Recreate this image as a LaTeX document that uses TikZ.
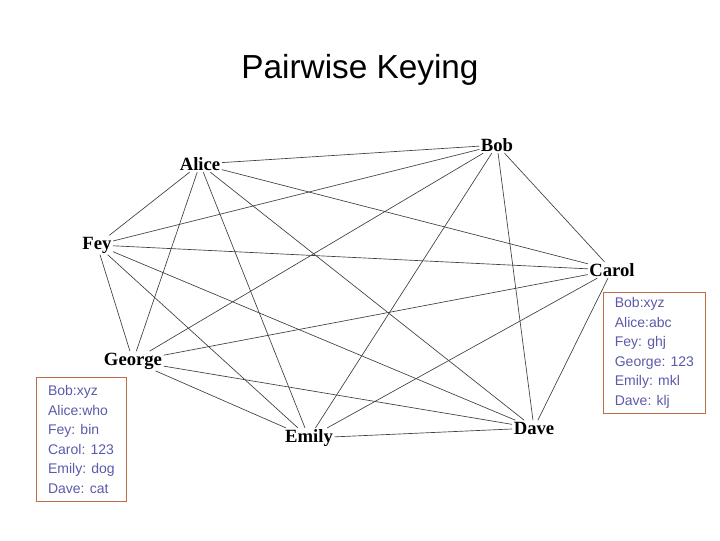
\documentclass[tikz,border=0pt]{standalone}
\usepackage{fontspec}
\setmainfont{Liberation Serif}
\newfontfamily\sans{Liberation Sans}
\begin{document}
\begin{tikzpicture}[x=0.75pt,y=-0.75pt,
  person/.style={font=\bfseries\fontsize{14}{16}\selectfont, inner sep=1pt},
  edge/.style={draw=black!75, line width=0.5pt},
  keybox/.style={draw={rgb,255:red,190;green,110;blue,70}, line width=0.6pt, font=\sans\fontsize{10.5}{14.6}\selectfont, text={rgb,255:red,90;green,90;blue,170}, align=left, anchor=north west, inner sep=3pt}]
\useasboundingbox (0,0) rectangle (720,540);
\node[font=\sans\fontsize{25}{30}\selectfont] (title) at (360,70) {Pairwise Keying};
\node[person] (bob) at (497,145) {Bob};
\node[person] (alice) at (200,164) {Alice};
\node[person] (fey) at (97,245) {Fey};
\node[person] (carol) at (612,270) {Carol};
\node[person] (george) at (133,361) {George};
\node[person] (emily) at (309,438) {Emily};
\node[person] (dave) at (534,428) {Dave};
\foreach \a/\b in {bob/alice,bob/fey,bob/carol,bob/george,bob/emily,bob/dave,
  alice/fey,alice/carol,alice/george,alice/emily,alice/dave,
  fey/carol,fey/george,fey/emily,fey/dave,
  carol/george,carol/emily,carol/dave,
  george/emily,george/dave,emily/dave}
  \draw[edge] (\a) -- (\b);
\node[keybox, minimum width=90*0.75pt, minimum height=124*0.75pt] (lbox) at (36,377) {Bob:xyz\\Alice:who\\Fey: bin\\Carol: 123\\Emily: dog\\Dave: cat};
\node[keybox, minimum width=102*0.75pt, minimum height=121*0.75pt] (rbox) at (603,292) {Bob:xyz\\Alice:abc\\Fey: ghj\\George: 123\\Emily: mkl\\Dave: klj};
\end{tikzpicture}
\end{document}
